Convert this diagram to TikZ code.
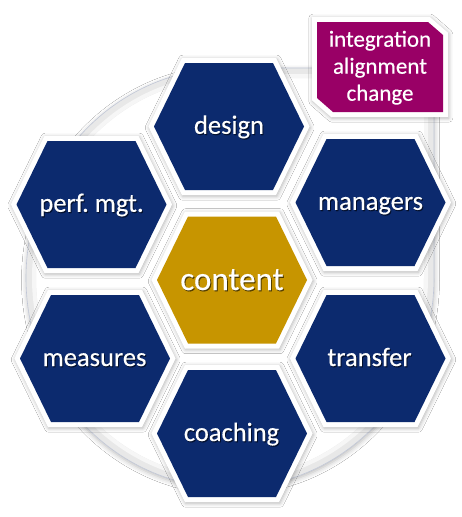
\documentclass[tikz,border=0pt]{standalone}
\usepackage{fontspec}
\setmainfont{Carlito}
\newfontfamily\lblfont[FakeBold=0.35]{Carlito}
\usetikzlibrary{shadows.blur}
\frenchspacing
\definecolor{navy}{HTML}{0C2A6E}
\definecolor{gold}{HTML}{C79500}
\definecolor{plum}{HTML}{990066}
\definecolor{ringgray}{HTML}{E8E8E8}
\definecolor{ringline}{HTML}{C0C6D6}
\tikzset{
  softshadow/.style={blur shadow={shadow xshift=0.8pt,shadow yshift=-1.2pt,shadow blur radius=4pt,shadow opacity=30}},
  hexborder/.style={fill=white,softshadow},
  lbl/.style={text=white,inner sep=0pt,anchor=base,font=\lblfont\fontsize{26.5}{30}\selectfont},
  lblshadow/.style={lbl,text=black,text opacity=0.55},
  biglbl/.style={lbl,font=\lblfont\fontsize{33}{38}\selectfont},
  biglblshadow/.style={biglbl,text=black,text opacity=0.55},
  boxtext/.style={anchor=base,inner sep=0pt,text=white,font=\lblfont\fontsize{23}{27}\selectfont},
}
\begin{document}
\begin{tikzpicture}[x=1pt,y=-1pt]
\useasboundingbox (0,0) rectangle (462,517);
\fill[white] (0,0) rectangle (462,517);
% background teardrop
\path[fill=white,blur shadow={shadow xshift=0.5pt,shadow yshift=-2pt,shadow blur radius=5pt,shadow opacity=28}]
  (26,278) arc[start angle=180,end angle=0,x radius=204,y radius=210] -- (434,68) -- (230,68)
  arc[start angle=270,end angle=180,x radius=204,y radius=210] -- cycle;
\draw[ringgray,line width=10pt]
  (31,278) arc[start angle=180,end angle=0,x radius=199,y radius=205] -- (429,73) -- (230,73)
  arc[start angle=270,end angle=180,x radius=199,y radius=205] -- cycle;
\draw[white!60!ringgray,line width=4pt]
  (34,278) arc[start angle=180,end angle=0,x radius=196,y radius=202] -- (426,76) -- (230,76)
  arc[start angle=270,end angle=180,x radius=196,y radius=202] -- cycle;
\draw[ringline,line width=0.6pt]
  (26,278) arc[start angle=180,end angle=0,x radius=204,y radius=210] -- (434,68) -- (230,68)
  arc[start angle=270,end angle=180,x radius=204,y radius=210] -- cycle;
% hexagons
\foreach \n/\x/\y/\c in {design/229/126.5/navy,perf/91.5/204.5/navy,managers/370.5/202.5/navy,content/232/280/gold,measures/95/358.5/navy,transfer/370.5/358.5/navy,coaching/232/433.5/navy}{
  \coordinate (h-\n) at (\x,\y);
  \path[hexborder] ([shift={(-80.6,0)}]h-\n) -- ([shift={(-47.1,-68.5)}]h-\n) -- ([shift={(47.1,-68.5)}]h-\n)
    -- ([shift={(80.6,0)}]h-\n) -- ([shift={(47.1,68.5)}]h-\n) -- ([shift={(-47.1,68.5)}]h-\n) -- cycle;
  \fill[\c] ([shift={(-75,0)}]h-\n) -- ([shift={(-44,-63.5)}]h-\n) -- ([shift={(44,-63.5)}]h-\n)
    -- ([shift={(75,0)}]h-\n) -- ([shift={(44,63.5)}]h-\n) -- ([shift={(-44,63.5)}]h-\n) -- cycle;
}
% labels
\node[lblshadow] (design-s) at (230,135) {design};
\node[lbl] (design) at (229,133.8) {design};
\node[lblshadow] (perf-s) at (92.5,213) {perf. mgt.};
\node[lbl] (perf) at (91.5,211.8) {perf. mgt.};
\node[lblshadow] (managers-s) at (371.5,211) {managers};
\node[lbl] (managers) at (370.5,209.8) {managers};
\node[biglblshadow] (content-s) at (233,291.2) {content};
\node[biglbl] (content) at (232,290) {content};
\node[lblshadow] (measures-s) at (95.5,367.2) {measures};
\node[lbl] (measures) at (94.5,366) {measures};
\node[lblshadow] (transfer-s) at (370.5,367.2) {transfer};
\node[lbl] (transfer) at (369.5,366) {transfer};
\node[lblshadow] (coaching-s) at (232.5,442.2) {coaching};
\node[lbl] (coaching) at (231.5,441) {coaching};
% purple box
\path[fill=white,softshadow] (312,17) -- (429.9,17) -- (448,32.7) -- (448,117) -- (331.1,117) -- (312,100.3) -- cycle;
\fill[plum] (317,22) -- (428,22) -- (443,35) -- (443,112) -- (333,112) -- (317,98) -- cycle;
\node[boxtext] (box) at (380,46.7) {\begin{tabular}[t]{@{}c@{}}integration\\alignment\\change\end{tabular}};
\end{tikzpicture}
\end{document}
